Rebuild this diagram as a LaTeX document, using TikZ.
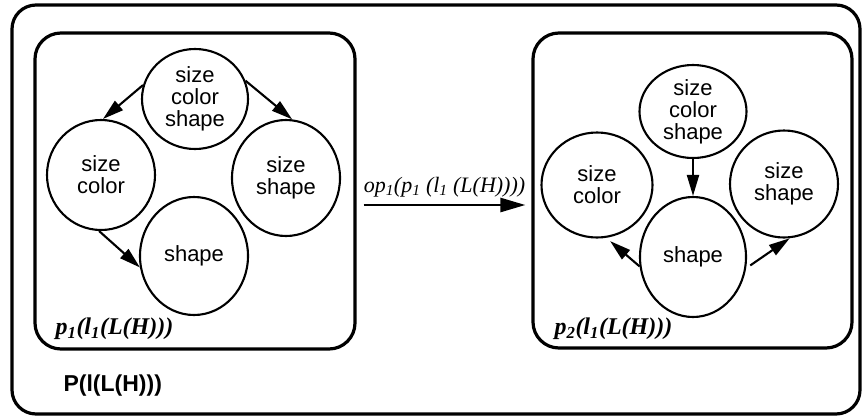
\documentclass[tikz,border=0pt]{standalone}
\usepackage{fontspec}
\setmainfont{Liberation Serif}
\setsansfont{Liberation Sans}
\usepackage{tikz}
\usetikzlibrary{arrows.meta,shapes.geometric}

\tikzset{
  attr/.style={ellipse, draw, line width=2.1pt, inner sep=0pt, align=center,
    minimum width=108pt, minimum height=108pt,
    font=\sffamily\fontsize{22}{22}\selectfont},
  frame/.style={draw, line width=3.2pt, rounded corners=26pt},
  link/.style={line width=2.1pt, -{Triangle[length=21pt,width=12pt]}},
  boxlabel/.style={anchor=base west, inner sep=0pt,
    font=\rmfamily\bfseries\itshape\fontsize{24}{26}\selectfont},
}

\begin{document}
\begin{tikzpicture}[x=1pt,y=-1pt]
\useasboundingbox (0,0) rectangle (862,418);
\node[frame, rounded corners=24pt, minimum width=848pt, minimum height=409pt] (outer) at (436,209.5) {};
\node[frame, minimum width=320pt, minimum height=316pt] (box1) at (195,191) {};
\node[frame, minimum width=319pt, minimum height=315pt] (box2) at (692.5,190.5) {};

\node[attr, minimum width=106pt, minimum height=100pt] (top1) at (195,99) {size\\color\\shape};
\node[attr, minimum height=110pt] (left1) at (101,175) {size\\color};
\node[attr, minimum height=116pt] (right1) at (286,178) {size\\shape};
\node[attr, minimum height=118pt] (bot1) at (194,256) {shape};

\node[attr, minimum width=107pt, minimum height=93pt] (top2) at (693,111.5) {size\\color\\shape};
\node[attr, minimum width=111pt, minimum height=105pt] (left2) at (597,185) {size\\color};
\node[attr, minimum height=107pt] (right2) at (784,184) {size\\shape};
\node[attr, minimum width=106pt, minimum height=120pt] (bot2) at (693,257) {shape};

\draw[link] (top1.165) -- (left1.88);
\draw[link] (top1.20) -- (right1.84);
\draw[link] (left1.268) -- (bot1.192);

\draw[link] (top2.south) -- (bot2.north);
\draw[link, shorten >=5pt] (bot2.190) -- (left2.280);
\draw[link, shorten <=5pt] (bot2.348) -- (right2.276);

\draw[line width=2.6pt, -{Triangle[length=25pt,width=14pt]}] ([xshift=7pt,yshift=-14pt]box1.east) -- ([xshift=-6pt,yshift=-14.5pt]box2.west)
  node[midway, above=3pt, font=\rmfamily\itshape\fontsize{22}{24}\selectfont] (op) {op\textsubscript{1}(p\textsubscript{1} (l\textsubscript{1} (L(H))))};

\node[boxlabel] (lab1) at ([xshift=22pt,yshift=16pt]box1.south west) {p\textsubscript{1}(l\textsubscript{1}(L(H)))};
\node[boxlabel] (lab2) at ([xshift=23pt,yshift=15pt]box2.south west) {p\textsubscript{2}(l\textsubscript{1}(L(H)))};
\node[anchor=base west, inner sep=0pt, font=\sffamily\bfseries\fontsize{23}{25}\selectfont] (whole) at ([xshift=53pt,yshift=24pt]outer.south west) {P(l(L(H)))};
\end{tikzpicture}
\end{document}
